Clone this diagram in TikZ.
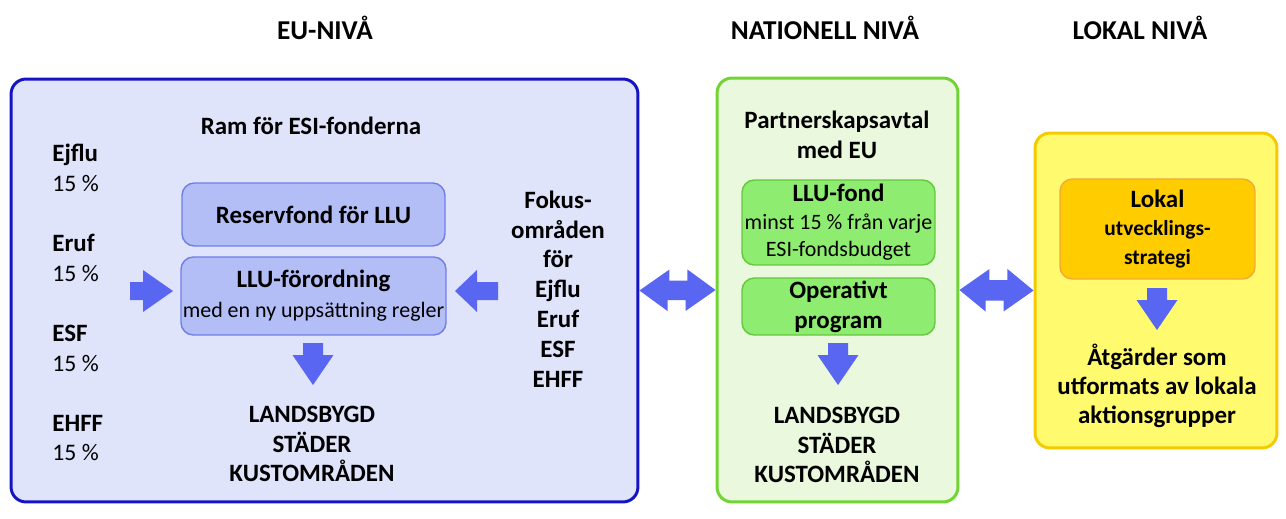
\documentclass[tikz,border=0pt]{standalone}
\usepackage{fontspec}
\setmainfont{Carlito}
\usepackage{tikz}
\usetikzlibrary{positioning}

\definecolor{eufill}{RGB}{224,228,251}
\definecolor{euline}{RGB}{20,20,195}
\definecolor{resfill}{RGB}{180,190,246}
\definecolor{resline}{RGB}{110,125,232}
\definecolor{natfill}{RGB}{234,248,222}
\definecolor{natline}{RGB}{112,212,50}
\definecolor{llufill}{RGB}{142,236,112}
\definecolor{lluline}{RGB}{100,200,60}
\definecolor{lokfill}{RGB}{255,250,110}
\definecolor{lokline}{RGB}{246,202,0}
\definecolor{stratfill}{RGB}{255,204,0}
\definecolor{stratline}{RGB}{240,170,60}
\definecolor{arrowblue}{RGB}{88,102,242}

\begin{document}
\begin{tikzpicture}[
  x=0.02cm, y=-0.02cm,
  line join=round,
  level/.style={font=\bfseries\fontsize{15.5}{18}\selectfont},
  bigtext/.style={font=\bfseries\fontsize{14.2}{17}\selectfont,align=center,inner sep=0pt},
  listtext/.style={font=\bfseries\fontsize{14.2}{17}\selectfont,align=left,inner sep=0pt},
  outerbox/.style={line width=1.7pt,rounded corners=8.5pt},
  eubox/.style={outerbox,draw=euline,fill=eufill},
  natbox/.style={outerbox,draw=natline,fill=natfill},
  lokbox/.style={outerbox,draw=lokline,fill=lokfill},
  innerbox/.style={line width=0.8pt,rounded corners=7pt,align=center,inner sep=1pt,
    font=\bfseries\fontsize{14.2}{17}\selectfont},
  reservbox/.style={innerbox,draw=resline,fill=resfill},
  llubox/.style={innerbox,draw=lluline,fill=llufill},
  stratbox/.style={innerbox,draw=stratline,fill=stratfill},
  blockarrow/.style={fill=arrowblue}
]
\path[use as bounding box] (0,0) rectangle (1286,518);

% level headings
\node[level] (hdreu) at (325,28) {EU-NIVÅ};
\node[level] (hdrnat) at (825,28) {NATIONELL NIVÅ};
\node[level] (hdrlok) at (1140,28) {LOKAL NIVÅ};

% the three levels
\node[eubox,minimum width=12.54cm,minimum height=8.46cm] (eu) at (324.5,290.5) {};
\node[natbox,minimum width=4.82cm,minimum height=8.48cm] (nat) at (837.5,290) {};
\node[lokbox,minimum width=4.84cm,minimum height=6.3cm] (lok) at (1156,290.5) {};

% EU level
\node[bigtext] (ram) at (311,126) {Ram för ESI-fonderna};
\node[listtext,anchor=west] (ejflu) at (52,168)
  {Ejflu\\{\mdseries\fontsize{13.5}{17}\selectfont 15 \%}};
\node[listtext,anchor=west] (eruf) at (52,258)
  {Eruf\\{\mdseries\fontsize{13.5}{17}\selectfont 15 \%}};
\node[listtext,anchor=west] (esf) at (52,348)
  {ESF\\{\mdseries\fontsize{13.5}{17}\selectfont 15 \%}};
\node[listtext,anchor=west] (ehff) at (52,438)
  {EHFF\\{\mdseries\fontsize{13.5}{17}\selectfont 15 \%}};

\node[reservbox,minimum width=5.26cm,minimum height=1.26cm] (reserv) at (313.5,214.5)
  {Reservfond för LLU};
\node[reservbox,minimum width=5.26cm,minimum height=1.56cm] (llu) at (313.5,296)
  {LLU-förordning\\{\mdseries\fontsize{12.5}{17}\selectfont med en ny uppsättning regler}};

\node[bigtext] (fokus) at (558,289)
  {Fokus-\\områden\\för\\Ejflu\\Eruf\\ESF\\EHFF};
\node[bigtext] (omreu) at (312,444) {LANDSBYGD\\STÄDER\\KUSTOMRÅDEN};

\fill[blockarrow] (130,282) -- (143,282) -- (143,270) -- (173,291)
  -- (143,312) -- (143,300) -- (130,300) -- cycle;
\fill[blockarrow] (498,282) -- (477,282) -- (477,270) -- (455,291)
  -- (477,312) -- (477,300) -- (498,300) -- cycle;

% national level
\node[bigtext] (partner) at (837,135) {Partnerskapsavtal\\med EU};
\node[llubox,minimum width=3.86cm,minimum height=1.7cm,
  font=\bfseries\fontsize{14.2}{15.6}\selectfont] (llufond) at (838.5,222.5)
  {LLU-fond\\{\mdseries\fontsize{12.5}{15.6}\selectfont minst 15 \% från varje}\\
   {\mdseries\fontsize{12.5}{15.6}\selectfont ESI-fondsbudget}};
\node[llubox,minimum width=3.86cm,minimum height=1.14cm] (oper) at (838.5,306.5)
  {Operativt\\program};
\node[bigtext] (omrnat) at (837,445) {LANDSBYGD\\STÄDER\\KUSTOMRÅDEN};

% local level
\node[stratbox,minimum width=3.9cm,minimum height=2cm,
  font=\bfseries\fontsize{14.2}{16.2}\selectfont] (strat) at (1157.5,229)
  {Lokal\\{\fontsize{12.2}{16.2}\selectfont utvecklings-}\\
   {\fontsize{12.2}{16.2}\selectfont strategi}};
\node[bigtext,font=\bfseries\fontsize{14.2}{16.5}\selectfont] (atg) at (1157,386)
  {Åtgärder som\\utformats av lokala\\aktionsgrupper};

% down arrows
\foreach \ax/\ay in {313/343,838/343,1157/288}
  \fill[blockarrow] (\ax-10,\ay) -- (\ax+10,\ay) -- (\ax+10,\ay+12) -- (\ax+20.5,\ay+12)
    -- (\ax,\ay+42) -- (\ax-20.5,\ay+12) -- (\ax-10,\ay+12) -- cycle;

% links between levels
\fill[blockarrow] (eu.east) -- ++(30,-21) -- ++(0,11) -- ++(18,0) -- ++(0,-11)
  -- (nat.west) -- ++(-30,21) -- ++(0,-11) -- ++(-18,0) -- ++(0,11) -- cycle;
\fill[blockarrow] (nat.east) -- ++(30,-21) -- ++(0,11) -- ++(18,0) -- ++(0,-11)
  -- (lok.west) -- ++(-30,21) -- ++(0,-11) -- ++(-18,0) -- ++(0,11) -- cycle;
\end{tikzpicture}
\end{document}
